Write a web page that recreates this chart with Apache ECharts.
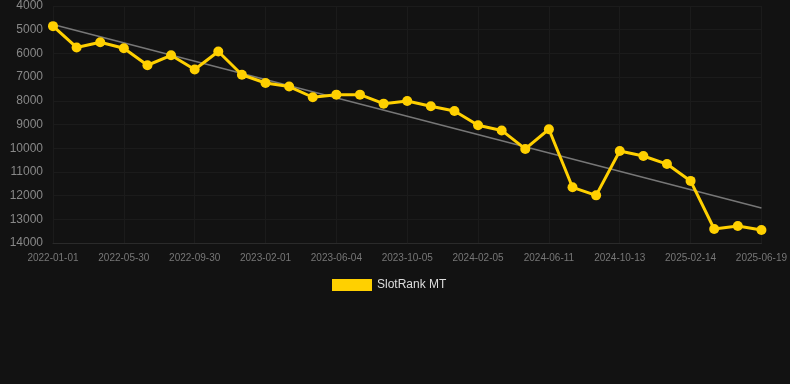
<!DOCTYPE html>
<html><head><meta charset="utf-8">
<script src="https://cdn.jsdelivr.net/npm/echarts@6/dist/echarts.min.js"></script>
<style>html,body{margin:0;padding:0;background:#121212;}#c{width:790px;height:384px;}</style>
</head><body><div id="c"></div>
<script>
const categories = ['2022-01-01','2022-02-19','2022-04-10','2022-05-30','2022-07-10','2022-08-20','2022-09-30','2022-11-10','2022-12-21','2023-02-01','2023-03-14','2023-04-24','2023-06-04','2023-07-15','2023-08-25','2023-10-05','2023-11-15','2023-12-26','2024-02-05','2024-03-17','2024-04-30','2024-06-11','2024-07-22','2024-09-02','2024-10-13','2024-11-23','2025-01-03','2025-02-14','2025-03-27','2025-05-08','2025-06-19'];
const rankValues = [4850,5750,5530,5780,6500,6080,6680,5920,6900,7250,7400,7850,7740,7740,8120,8010,8230,8430,9030,9250,10030,9200,11650,11990,10120,10330,10670,11380,13410,13280,13450];
const trendStart = 4780;
const trendEnd = 12520;
const trendValues = categories.map((c, i) => i === 0 ? trendStart : (i === categories.length - 1 ? trendEnd : null));

const chart = echarts.init(document.getElementById('c'));
chart.setOption({
  backgroundColor: '#121212',
  animation: false,
  grid: {left: 53, right: 28, top: 6, bottom: 141},
  legend: {
    top: 274, left: 327, itemWidth: 40, itemHeight: 12, itemGap: 10,
    icon: 'rect',
    data: ['SlotRank MT'],
    textStyle: {color: '#ddd', fontSize: 12, fontFamily: 'Arial, Liberation Sans, sans-serif'}
  },
  xAxis: {
    type: 'category', data: categories, boundaryGap: false,
    axisLine: {lineStyle: {color: '#2a2a2a'}},
    axisTick: {show: false},
    axisLabel: {interval: 2, color: '#777', fontSize: 10, margin: 10, fontFamily: 'Arial, Liberation Sans, sans-serif'},
    splitLine: {show: true, interval: 2, lineStyle: {color: '#1b1b1b'}}
  },
  yAxis: {
    type: 'value', inverse: true, min: 4000, max: 14000, interval: 1000,
    axisLine: {show: false}, axisTick: {show: false},
    axisLabel: {color: '#888', fontSize: 12, margin: 10, formatter: v => String(v), fontFamily: 'Arial, Liberation Sans, sans-serif'},
    splitLine: {lineStyle: {color: '#1b1b1b'}}
  },
  series: [
    {
      name: 'SlotRank MT', type: 'line', data: rankValues,
      symbol: 'circle', symbolSize: 10,
      lineStyle: {color: '#FFD000', width: 3},
      itemStyle: {color: '#FFD000'}, z: 3
    },
    {
      name: 'trend', type: 'line', data: trendValues, connectNulls: true,
      symbol: 'none', lineStyle: {color: '#777', width: 1.5},
      itemStyle: {color: '#777'}, z: 2
    }
  ]
});
</script></body></html>
